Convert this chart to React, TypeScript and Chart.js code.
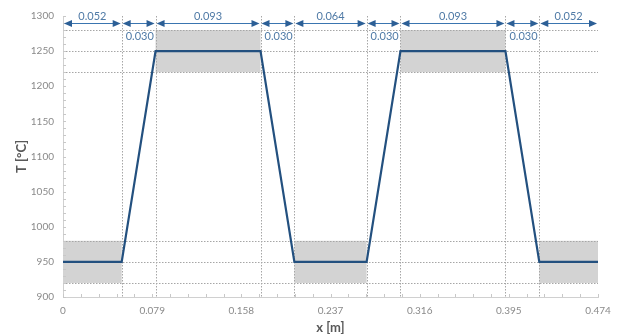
import React, { useEffect, useRef } from "react";
import { Chart, registerables } from "chart.js";

Chart.register(...registerables);

// Temperature profile along the length
const xPoints = [0, 0.052, 0.082, 0.175, 0.205, 0.269, 0.299, 0.392, 0.422, 0.474];
const tPoints = [950, 950, 1250, 1250, 950, 950, 1250, 1250, 950, 950];

// Dimension annotations (segment widths)
const segmentWidths = [0.052, 0.03, 0.093, 0.03, 0.064, 0.03, 0.093, 0.03, 0.052];
const segmentLabels = ["0.052", "0.030", "0.093", "0.030", "0.064", "0.030", "0.093", "0.030", "0.052"];
const shortSegment = [false, true, false, true, false, true, false, true, false];

// Tolerance bands
const bandStarts = [0, 0.082, 0.205, 0.299, 0.422];
const bandEnds = [0.052, 0.175, 0.269, 0.392, 0.474];
const bandLow = [920, 1220, 920, 1220, 920];
const bandHigh = [980, 1280, 980, 1280, 980];

// Dotted reference levels
const refLevels = [920, 950, 980, 1220, 1250, 1280];

// Axis ticks
const xTicks = [0, 0.079, 0.158, 0.237, 0.316, 0.395, 0.474];
const xTickLabels = ["0", "0.079", "0.158", "0.237", "0.316", "0.395", "0.474"];
const yTicks = [900, 950, 1000, 1050, 1100, 1150, 1200, 1250, 1300];
const yMinorStep = 10;
const xMinorStep = 0.0158;
const dimLevel = 1290;

const FONT = "Lato, 'Open Sans', sans-serif";

const overlayPlugin = {
  id: "overlay",
  beforeDatasetsDraw(chart: any) {
    const { ctx, chartArea: a, scales } = chart;
    const x = scales.x;
    const y = scales.y;
    ctx.save();
    // bands
    ctx.fillStyle = "#d3d3d3";
    for (let i = 0; i < bandStarts.length; i++) {
      const x0 = x.getPixelForValue(bandStarts[i]);
      const x1 = x.getPixelForValue(bandEnds[i]);
      const y0 = y.getPixelForValue(bandHigh[i]);
      const y1 = y.getPixelForValue(bandLow[i]);
      ctx.fillRect(x0, y0, x1 - x0, y1 - y0);
    }
    // dotted horizontal lines
    ctx.strokeStyle = "#a6a6a6";
    ctx.lineWidth = 1;
    ctx.setLineDash([1.5, 1.5]);
    for (const lv of refLevels) {
      const py = Math.round(y.getPixelForValue(lv)) + 0.5;
      ctx.beginPath();
      ctx.moveTo(a.left, py);
      ctx.lineTo(a.right, py);
      ctx.stroke();
    }
    // dotted vertical lines at boundaries
    let acc = 0;
    for (let i = 0; i < segmentWidths.length - 1; i++) {
      acc += segmentWidths[i];
      const px = Math.round(x.getPixelForValue(acc)) + 0.5;
      ctx.beginPath();
      ctx.moveTo(px, a.top);
      ctx.lineTo(px, a.bottom);
      ctx.stroke();
    }
    ctx.setLineDash([]);
    // minor ticks
    ctx.strokeStyle = "#c8c8c8";
    for (let v = y.min; v <= y.max + 1e-9; v += yMinorStep) {
      const py = Math.round(y.getPixelForValue(v)) + 0.5;
      ctx.beginPath();
      ctx.moveTo(a.left, py);
      ctx.lineTo(a.left + 3, py);
      ctx.stroke();
    }
    for (let v = x.min; v <= x.max + 1e-9; v += xMinorStep) {
      const px = Math.round(x.getPixelForValue(v)) + 0.5;
      ctx.beginPath();
      ctx.moveTo(px, a.bottom);
      ctx.lineTo(px, a.bottom - 3);
      ctx.stroke();
    }
    ctx.restore();
  },
  afterDraw(chart: any) {
    const { ctx, scales } = chart;
    const x = scales.x;
    const y = scales.y;
    const py = Math.round(y.getPixelForValue(dimLevel)) + 0.5;
    ctx.save();
    let start = 0;
    for (let i = 0; i < segmentWidths.length; i++) {
      const end = start + segmentWidths[i];
      const x0 = x.getPixelForValue(start) + 1;
      const x1 = x.getPixelForValue(end) - 1;
      ctx.strokeStyle = "#3a75b0";
      ctx.fillStyle = "#2c5f96";
      ctx.lineWidth = 1;
      ctx.beginPath();
      ctx.moveTo(x0 + 4, py);
      ctx.lineTo(x1 - 4, py);
      ctx.stroke();
      ctx.beginPath();
      ctx.moveTo(x0, py);
      ctx.lineTo(x0 + 8, py - 3.5);
      ctx.lineTo(x0 + 8, py + 3.5);
      ctx.closePath();
      ctx.fill();
      ctx.beginPath();
      ctx.moveTo(x1, py);
      ctx.lineTo(x1 - 8, py - 3.5);
      ctx.lineTo(x1 - 8, py + 3.5);
      ctx.closePath();
      ctx.fill();
      ctx.fillStyle = "#4f7aa6";
      ctx.font = "11px " + FONT;
      ctx.textBaseline = "middle";
      if (shortSegment[i]) {
        ctx.textAlign = "left";
        ctx.fillText(segmentLabels[i], x0 + 3, py + 13);
      } else {
        ctx.textAlign = "center";
        ctx.fillText(segmentLabels[i], (x0 + x1) / 2, py - 7);
      }
      start = end;
    }
    ctx.restore();
  },
};

export default function App() {
  const ref = useRef<HTMLCanvasElement | null>(null);
  useEffect(() => {
    if (!ref.current) return;
    const chart = new Chart(ref.current, {
      type: "line",
      data: {
        datasets: [
          {
            data: xPoints.map((v, i) => ({ x: v, y: tPoints[i] })),
            borderColor: "#23507f",
            borderWidth: 2.2,
            pointRadius: 0,
            tension: 0,
            fill: false,
          },
        ],
      },
      options: {
        animation: false,
        responsive: true,
        maintainAspectRatio: false,
        devicePixelRatio: 1,
        layout: { padding: { top: 16, right: 22, left: 0, bottom: 0 } },
        plugins: { legend: { display: false }, tooltip: { enabled: false } },
        scales: {
          x: {
            type: "linear",
            min: 0,
            max: 0.474,
            afterBuildTicks: (s: any) => {
              s.ticks = xTicks.map((v) => ({ value: v }));
            },
            afterFit: (s: any) => {
              s.height = 39;
            },
            grid: { display: false, drawTicks: false },
            border: { display: true, color: "#d0d0d0", width: 1 },
            ticks: {
              autoSkip: false,
              maxRotation: 0,
              padding: 8,
              color: "#8a8a8a",
              font: { family: FONT, size: 10 },
              callback: (v: any, i: number) => xTickLabels[i],
            },
            title: {
              display: true,
              text: "x [m]",
              color: "#595959",
              font: { family: FONT, size: 13, weight: "bold" },
              padding: { top: 0, bottom: 0.5 },
            },
          },
          y: {
            type: "linear",
            min: 900,
            max: 1300,
            afterBuildTicks: (s: any) => {
              s.ticks = yTicks.map((v) => ({ value: v }));
            },
            afterFit: (s: any) => {
              s.width = 63;
            },
            grid: { display: false, drawTicks: false },
            border: { display: true, color: "#d0d0d0", width: 1 },
            ticks: {
              padding: 9,
              color: "#8a8a8a",
              font: { family: FONT, size: 10 },
              callback: (v: any) => String(v),
            },
            title: {
              display: true,
              text: "T [°C]",
              color: "#595959",
              font: { family: FONT, size: 13, weight: "bold" },
              padding: { top: 14, bottom: 0 },
            },
          },
        },
      },
      plugins: [overlayPlugin],
    });
    return () => chart.destroy();
  }, []);
  return (
    <div style={{ position: "fixed", left: 0, top: 0, width: 620, height: 336, background: "#fff" }}>
      <canvas ref={ref} />
    </div>
  );
}
